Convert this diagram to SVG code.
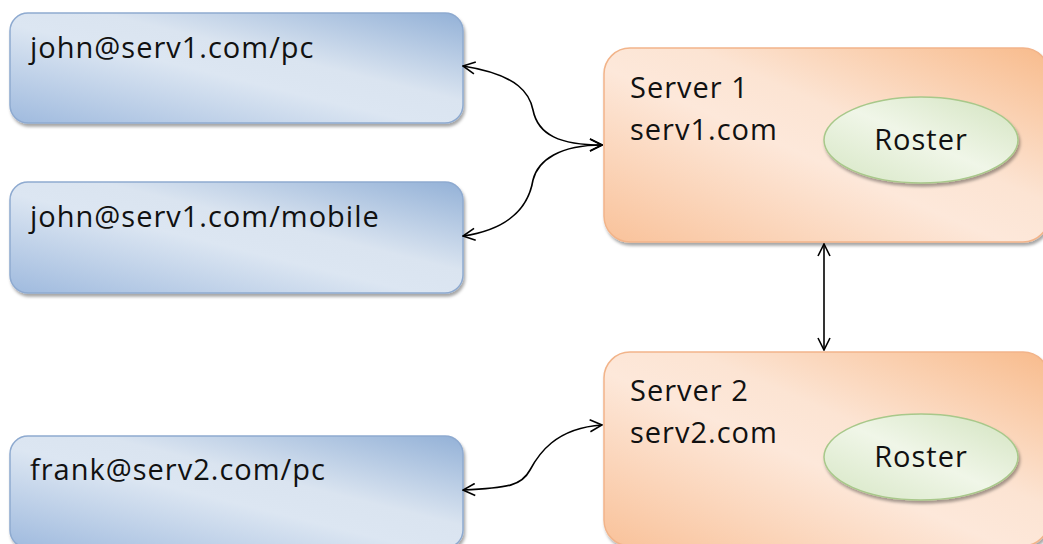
<svg xmlns="http://www.w3.org/2000/svg" width="1043" height="544" viewBox="0 0 1043 544">
  <style>
    .lbl { font-family: "Open Sans", "Liberation Sans", sans-serif; font-size: 29px; letter-spacing: 1px; fill: #111; }
    .client { fill: url(#blueFill); stroke: #8eaad0; stroke-width: 1.5; filter: url(#shadow); }
    .server { fill: url(#orangeFill); stroke: #f2b48a; stroke-width: 1.5; filter: url(#shadow); }
    .roster { fill: url(#greenFill); stroke: #a8c88a; stroke-width: 1.5; filter: url(#shadow); }
    .link { fill: none; stroke: #000; stroke-width: 1.6; marker-start: url(#arrow); marker-end: url(#arrow); }
  </style>
  <defs>
    <linearGradient id="blueFill" x1="0" y1="1" x2="1" y2="0">
      <stop offset="0" stop-color="#9fbade"/>
      <stop offset="0.45" stop-color="#dce6f2"/>
      <stop offset="0.6" stop-color="#dae4f0"/>
      <stop offset="1" stop-color="#93b1d7"/>
    </linearGradient>
    <linearGradient id="orangeFill" x1="0" y1="1" x2="1" y2="0">
      <stop offset="0" stop-color="#f9c29a"/>
      <stop offset="0.45" stop-color="#fde8da"/>
      <stop offset="0.6" stop-color="#fce4d3"/>
      <stop offset="1" stop-color="#f8bb8c"/>
    </linearGradient>
    <linearGradient id="greenFill" x1="0" y1="1" x2="1" y2="0">
      <stop offset="0" stop-color="#d6e6c4"/>
      <stop offset="0.5" stop-color="#f0f6e8"/>
      <stop offset="1" stop-color="#d2e3bf"/>
    </linearGradient>
    <filter id="shadow" x="-10%" y="-10%" width="120%" height="130%">
      <feDropShadow dx="1.5" dy="3" stdDeviation="1.5" flood-color="#000" flood-opacity="0.35"/>
    </filter>
    <marker id="arrow" viewBox="0 0 14 14" refX="13" refY="7" markerWidth="14" markerHeight="14" markerUnits="userSpaceOnUse" orient="auto-start-reverse">
      <path d="M1,1 L13,7 L1,13" fill="none" stroke="#000" stroke-width="1.6"/>
    </marker>
  </defs>

  <!-- client nodes -->
  <g id="client-john-pc">
    <rect class="client" x="10" y="13" width="453" height="110" rx="18"/>
    <text class="lbl" x="30" y="58">john@serv1.com/pc</text>
  </g>
  <g id="client-john-mobile">
    <rect class="client" x="10" y="182" width="453" height="111" rx="18"/>
    <text class="lbl" x="30" y="227">john@serv1.com/mobile</text>
  </g>
  <g id="client-frank-pc">
    <rect class="client" x="10" y="436" width="453" height="112" rx="18"/>
    <text class="lbl" x="30" y="480">frank@serv2.com/pc</text>
  </g>

  <!-- servers -->
  <g id="server-1">
    <rect class="server" x="604" y="48" width="445" height="194" rx="26"/>
    <text class="lbl" x="630" y="98">Server 1</text>
    <text class="lbl" x="630" y="140">serv1.com</text>
    <g id="roster-1">
      <ellipse class="roster" cx="921" cy="140" rx="97" ry="43"/>
      <text class="lbl" x="921" y="150" text-anchor="middle">Roster</text>
    </g>
  </g>
  <g id="server-2">
    <rect class="server" x="604" y="352" width="445" height="194" rx="26"/>
    <text class="lbl" x="630" y="401">Server 2</text>
    <text class="lbl" x="630" y="443">serv2.com</text>
    <g id="roster-2">
      <ellipse class="roster" cx="921" cy="457" rx="97" ry="43"/>
      <text class="lbl" x="921" y="467" text-anchor="middle">Roster</text>
    </g>
  </g>

  <!-- connectors -->
  <g id="connectors">
    <path class="link" d="M463,66 C520,75 530,95 533,110 C538,135 560,145 602,145"/>
    <path class="link" d="M602,145 C560,145 538,160 533,180 C528,210 505,230 463,236"/>
    <path class="link" d="M463,490 C510,488 522,485 530,470 C538,455 555,428 602,425"/>
    <path class="link" d="M824,244 L824,350"/>
  </g>
</svg>
